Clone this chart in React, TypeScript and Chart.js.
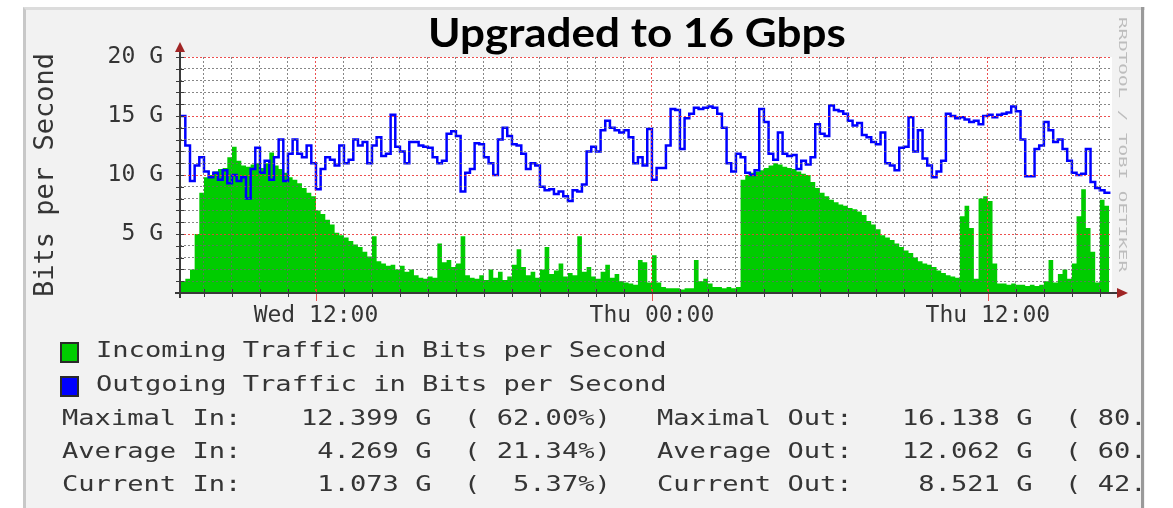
import React, { useEffect, useRef } from 'react';
import { Chart, registerables } from 'chart.js';

Chart.register(...registerables);

// ---- data (hours since Wed 00:00, values in Gbit/s) ----
const FIRST_SAMPLE_HOUR = 7 + 10 / 60; // Wed 07:10
const SAMPLE_STEP_HOURS = 10 / 60; // 10 minute samples
const X_MIN_HOUR = 7 + 8.6 / 60;
const X_MAX_HOUR = 40 + 26 / 60;
const Y_MAX_G = 20;

const incomingG = [
  1.0, 1.2, 2.0, 5.0, 8.5, 9.8, 10.0, 10.3, 10.5, 10.6,
  11.5, 12.4, 11.2, 10.8, 10.7, 10.9, 11.0, 10.6, 11.0, 11.9,
  10.8, 10.5, 10.2, 9.8, 9.6, 9.3, 8.9, 8.5, 8.2, 7.0,
  6.7, 6.2, 5.8, 5.1, 4.9, 4.7, 4.4, 4.1, 3.9, 3.5,
  3.1, 4.8, 2.7, 2.5, 2.3, 2.4, 2.0, 2.3, 1.8, 2.0,
  1.5, 1.3, 1.2, 1.4, 1.3, 4.2, 2.6, 2.8, 2.2, 2.5,
  4.8, 1.5, 1.3, 1.2, 1.5, 1.1, 2.0, 1.3, 1.8, 1.1,
  1.4, 2.4, 3.7, 2.2, 1.5, 1.8, 1.3, 2.0, 3.9, 1.6,
  1.9, 2.5, 1.4, 1.7, 1.5, 4.8, 1.8, 2.2, 1.4, 1.2,
  1.8, 2.4, 1.3, 1.6, 1.0, 0.9, 0.8, 0.7, 2.8, 2.6,
  0.9, 3.2, 0.9, 0.5, 0.4, 0.4, 0.4, 0.3, 0.4, 0.4,
  2.8, 1.0, 1.2, 0.8, 0.5, 0.5, 0.4, 0.5, 0.4, 0.5,
  9.6, 10.0, 10.2, 10.3, 10.4, 10.6, 10.8, 11.0, 10.9, 10.7,
  10.6, 10.5, 10.3, 10.1, 10.0, 9.4, 8.9, 8.5, 8.2, 7.9,
  7.7, 7.5, 7.4, 7.2, 7.1, 6.9, 6.6, 6.1, 5.8, 5.4,
  4.9, 4.7, 4.5, 4.2, 3.9, 3.6, 3.4, 3.0, 2.7, 2.5,
  2.4, 2.2, 1.9, 1.7, 1.5, 1.4, 1.3, 6.5, 7.4, 5.5,
  1.2, 8.0, 8.2, 7.8, 2.5, 0.8, 0.8, 0.7, 0.8, 0.7,
  0.7, 0.6, 0.7, 0.6, 0.7, 1.0, 2.8, 0.9, 1.6, 2.0,
  1.2, 2.5, 6.5, 8.8, 5.5, 3.5, 0.9, 7.9, 7.4, 3.0,
];

const outgoingG = [
  15.0, 12.5, 9.5, 10.8, 11.5, 10.3, 9.8, 10.2, 9.6, 10.4,
  9.3, 10.0, 9.5, 9.8, 8.0, 10.5, 12.3, 10.2, 11.2, 9.6,
  11.5, 13.0, 9.5, 11.8, 13.0, 11.8, 11.5, 12.5, 11.0, 8.8,
  10.5, 11.5, 11.3, 10.8, 12.5, 11.0, 11.3, 13.0, 12.5, 12.8,
  11.0, 12.5, 13.2, 11.6, 11.8, 15.1, 12.4, 12.0, 11.0, 12.8,
  12.8, 12.5, 12.4, 12.3, 11.5, 11.0, 11.2, 13.5, 13.7, 13.3,
  8.6, 10.2, 10.5, 12.7, 12.6, 11.5, 11.0, 10.0, 13.0, 14.0,
  13.3, 12.6, 12.5, 11.8, 10.5, 11.0, 10.8, 9.0, 8.7, 8.8,
  8.4, 8.6, 8.2, 7.8, 8.7, 8.6, 9.2, 12.0, 12.4, 12.0,
  13.8, 14.6, 14.0, 13.8, 13.6, 13.8, 13.2, 11.0, 11.5, 10.8,
  13.9, 9.6, 10.6, 10.6, 12.5, 15.6, 15.5, 12.2, 14.8, 15.2,
  15.7, 15.6, 15.7, 15.8, 15.7, 15.2, 14.0, 11.0, 10.3, 11.8,
  11.5, 10.2, 10.0, 10.4, 15.6, 14.5, 11.8, 11.3, 13.6, 11.8,
  11.6, 11.7, 10.5, 11.2, 10.9, 11.5, 14.3, 13.5, 13.3, 15.9,
  15.5, 15.4, 15.2, 14.6, 14.2, 14.4, 13.4, 13.2, 12.8, 12.6,
  13.6, 11.0, 10.8, 10.4, 12.3, 12.4, 14.9, 12.0, 13.8, 11.4,
  10.8, 9.8, 10.3, 11.2, 15.2, 15.0, 14.8, 14.9, 14.7, 14.5,
  14.6, 14.3, 15.0, 15.1, 14.9, 15.1, 15.2, 15.3, 15.8, 15.4,
  13.0, 9.9, 9.9, 12.2, 12.5, 14.5, 13.8, 12.8, 13.0, 12.2,
  11.2, 10.2, 10.0, 10.1, 12.2, 9.4, 8.9, 8.7, 8.5, 8.6,
];

const majorTickLabels: Record<number, string> = {
  12: 'Wed 12:00',
  24: 'Thu 00:00',
  36: 'Thu 12:00',
};
const Y_LABEL_STEP = 5;
const MAJOR_X_STEP = 12;

const legendLabels = ['Incoming Traffic in Bits per Second', 'Outgoing Traffic in Bits per Second'];
const legendColors = ['#00cc00', '#0000ff'];

const statLabelsIn = ['Maximal In:', 'Average In:', 'Current In:'];
const statValuesIn = ['12.399 G  ( 62.00%)', ' 4.269 G  ( 21.34%)', ' 1.073 G  (  5.37%)'];
const statLabelsOut = ['Maximal Out:', 'Average Out:', 'Current Out:'];
const statValuesOut = ['16.138 G  ( 80.69%)', '12.062 G  ( 60.31%)', ' 8.521 G  ( 42.60%)'];

const TITLE = 'Upgraded to 16 Gbps';
const Y_TITLE = 'Bits per Second';
const WATERMARK = 'RRDTOOL / TOBI OETIKER';

// ---- styles ----
const MONO = '"DejaVu Sans Mono", monospace';
const TEXT = '#353535';
const GRID_GRAY = 'rgba(105,105,105,0.8)';
const GRID_RED = 'rgba(235,60,60,0.9)';
const AXIS = '#3a3a3a';
const ARROW = '#a02525';
const LEG_SIZE = 22;
const LEG_SCALE = 1.231;
const LEG_BASE = 18.6;

const rrdPlugin = {
  id: 'rrdDecor',
  beforeDraw(chart: any) {
    const { ctx, chartArea: a } = chart;
    ctx.save();
    ctx.fillStyle = '#ffffff';
    ctx.fillRect(a.left, a.top, a.right - a.left, a.bottom - a.top);
    ctx.restore();
  },
  afterDraw(chart: any) {
    const { ctx, chartArea: a, scales } = chart;
    const xs = scales.x;
    const ys = scales.y;
    ctx.save();
    ctx.lineWidth = 1;
    ys.ticks.forEach((t: any) => {
      const y = Math.round(ys.getPixelForValue(t.value)) + 0.5;
      ctx.strokeStyle = AXIS;
      ctx.beginPath();
      ctx.moveTo(a.left - 4, y);
      ctx.lineTo(a.left + 4, y);
      ctx.stroke();
    });
    xs.ticks.forEach((t: any) => {
      const x = Math.round(xs.getPixelForValue(t.value)) + 0.5;
      const major = t.value % MAJOR_X_STEP === 0;
      ctx.strokeStyle = major ? GRID_RED : AXIS;
      ctx.beginPath();
      ctx.moveTo(x, a.bottom - 4);
      ctx.lineTo(x, a.bottom + (major ? 8 : 4));
      ctx.stroke();
    });
    ctx.strokeStyle = AXIS;
    ctx.lineWidth = 2;
    ctx.beginPath();
    ctx.moveTo(a.left, a.bottom + 5);
    ctx.lineTo(a.left, a.top - 6);
    ctx.stroke();
    ctx.beginPath();
    ctx.moveTo(a.left - 5, a.bottom);
    ctx.lineTo(a.right + 6, a.bottom);
    ctx.stroke();
    ctx.fillStyle = ARROW;
    ctx.beginPath();
    ctx.moveTo(a.left - 5, a.top - 5);
    ctx.lineTo(a.left + 5, a.top - 5);
    ctx.lineTo(a.left, a.top - 15);
    ctx.closePath();
    ctx.fill();
    ctx.beginPath();
    ctx.moveTo(a.right + 5, a.bottom - 5);
    ctx.lineTo(a.right + 5, a.bottom + 5);
    ctx.lineTo(a.right + 16, a.bottom);
    ctx.closePath();
    ctx.fill();
    ctx.restore();
  },
};

function ChartCanvas() {
  const ref = useRef<HTMLCanvasElement | null>(null);
  useEffect(() => {
    if (!ref.current) return;
    const times = incomingG.map((_, i) => FIRST_SAMPLE_HOUR + i * SAMPLE_STEP_HOURS);
    const chart = new Chart(ref.current, {
      type: 'line',
      data: {
        datasets: [
          {
            label: 'Outgoing',
            data: outgoingG.map((v, i) => ({ x: times[i], y: v })),
            borderColor: '#0000ff',
            borderWidth: 2.5,
            pointRadius: 0,
            stepped: true,
            fill: false,
            order: 1,
          },
          {
            label: 'Incoming',
            data: incomingG.map((v, i) => ({ x: times[i], y: v })),
            borderColor: '#00cc00',
            backgroundColor: '#00cc00',
            borderWidth: 0,
            pointRadius: 0,
            stepped: true,
            fill: 'origin',
            order: 2,
          },
        ],
      },
      options: {
        animation: false,
        responsive: false,
        events: [],
        layout: { padding: { left: 24, top: 57, right: 61, bottom: 175 } },
        plugins: {
          legend: { display: false },
          tooltip: { enabled: false },
          title: { display: false },
        },
        scales: {
          x: {
            type: 'linear',
            min: X_MIN_HOUR,
            max: X_MAX_HOUR,
            afterBuildTicks: (s: any) => {
              const t = [];
              for (let h = Math.ceil(X_MIN_HOUR); h <= Math.floor(X_MAX_HOUR); h++) t.push({ value: h });
              s.ticks = t;
            },
            afterFit: (s: any) => {
              s.height = 40;
            },
            grid: {
              z: 1,
              drawTicks: false,
              lineWidth: 1,
              color: (c: any) => (c.tick && c.tick.value % MAJOR_X_STEP === 0 ? GRID_RED : GRID_GRAY),
            },
            border: { display: false, dash: [2, 2] },
            ticks: {
              autoSkip: false,
              maxRotation: 0,
              padding: 9,
              color: TEXT,
              font: { family: MONO, size: 23 },
              callback: (v: any) => majorTickLabels[v] || '',
            },
          },
          y: {
            min: 0,
            max: Y_MAX_G,
            afterBuildTicks: (s: any) => {
              const t = [];
              for (let v = 0; v <= Y_MAX_G; v++) t.push({ value: v });
              s.ticks = t;
            },
            afterFit: (s: any) => {
              s.width = 156;
            },
            grid: {
              z: 1,
              drawTicks: false,
              lineWidth: 1,
              color: (c: any) => (c.tick && c.tick.value % Y_LABEL_STEP === 0 ? GRID_RED : GRID_GRAY),
            },
            border: { display: false, dash: [2, 2] },
            ticks: {
              autoSkip: false,
              padding: 17,
              color: TEXT,
              font: { family: MONO, size: 23 },
              callback: (v: any) => (v > 0 && v % Y_LABEL_STEP === 0 ? `${v} G` : ''),
            },
            title: {
              display: true,
              text: Y_TITLE,
              color: TEXT,
              font: { family: MONO, size: 27 },
              padding: { top: 6, bottom: 0 },
            },
          },
        },
      },
      plugins: [rrdPlugin],
    } as any);
    return () => chart.destroy();
  }, []);
  return <canvas ref={ref} width={1173} height={508} style={{ position: 'absolute', left: 0, top: 0 }} />;
}

const monoText = (extra: React.CSSProperties): React.CSSProperties => ({
  position: 'absolute',
  fontFamily: MONO,
  fontSize: LEG_SIZE,
  lineHeight: `${LEG_SIZE}px`,
  color: TEXT,
  whiteSpace: 'pre',
  transform: `scaleX(${LEG_SCALE})`,
  transformOrigin: 'left top',
  ...extra,
});

export default function App() {
  const legendBaselines = [358, 391.5];
  const statBaselines = [425.5, 459, 492];
  return (
    <div style={{ position: 'absolute', left: 0, top: 0, width: 1173, height: 508, background: '#ffffff', overflow: 'hidden' }}>
      <div
        style={{
          position: 'absolute',
          left: 23,
          top: 7,
          width: 1122,
          height: 520,
          background: '#f2f2f2',
          boxSizing: 'border-box',
          borderLeft: '3px solid #c8c8c8',
          borderTop: '3px solid #dcdcdc',
        }}
      />
      <ChartCanvas />
      <div
        style={{
          position: 'absolute',
          left: 428,
          top: 7.5,
          fontFamily: 'Lato, "Open Sans", sans-serif',
          fontWeight: 700,
          fontSize: 40,
          lineHeight: 1.2,
          color: '#000000',
          whiteSpace: 'nowrap',
          transform: 'scaleX(1.1)',
          transformOrigin: 'left top',
        }}
      >
        {TITLE}
      </div>
      <div
        style={{
          position: 'absolute',
          left: 1128.3,
          top: 17,
          fontFamily: MONO,
          fontSize: 11,
          lineHeight: '11px',
          color: '#bdbdbd',
          whiteSpace: 'pre',
          transformOrigin: 'left top',
          transform: 'rotate(90deg) scaleX(1.75)',
        }}
      >
        {WATERMARK}
      </div>
      {legendLabels.map((lab, i) => (
        <React.Fragment key={lab}>
          <div
            style={{
              position: 'absolute',
              left: 60,
              top: legendBaselines[i] - 16,
              width: 19,
              height: 21,
              boxSizing: 'border-box',
              border: '2px solid #2a2a2a',
              background: legendColors[i],
            }}
          />
          <div style={monoText({ left: 96, top: legendBaselines[i] - LEG_BASE })}>{lab}</div>
        </React.Fragment>
      ))}
      <div style={{ position: 'absolute', left: 0, top: 0, width: 1141, height: 508, overflow: 'hidden' }}>
        {statLabelsIn.map((lab, i) => (
          <React.Fragment key={lab}>
            <div style={monoText({ left: 62, top: statBaselines[i] - LEG_BASE })}>{lab}</div>
            <div style={monoText({ left: 301, top: statBaselines[i] - LEG_BASE })}>{statValuesIn[i]}</div>
            <div style={monoText({ left: 657, top: statBaselines[i] - LEG_BASE })}>{statLabelsOut[i]}</div>
            <div style={monoText({ left: 902, top: statBaselines[i] - LEG_BASE })}>{statValuesOut[i]}</div>
          </React.Fragment>
        ))}
      </div>
      <div style={{ position: 'absolute', left: 1141, top: 7, width: 3, height: 510, background: '#9a9a9a' }} />
    </div>
  );
}
